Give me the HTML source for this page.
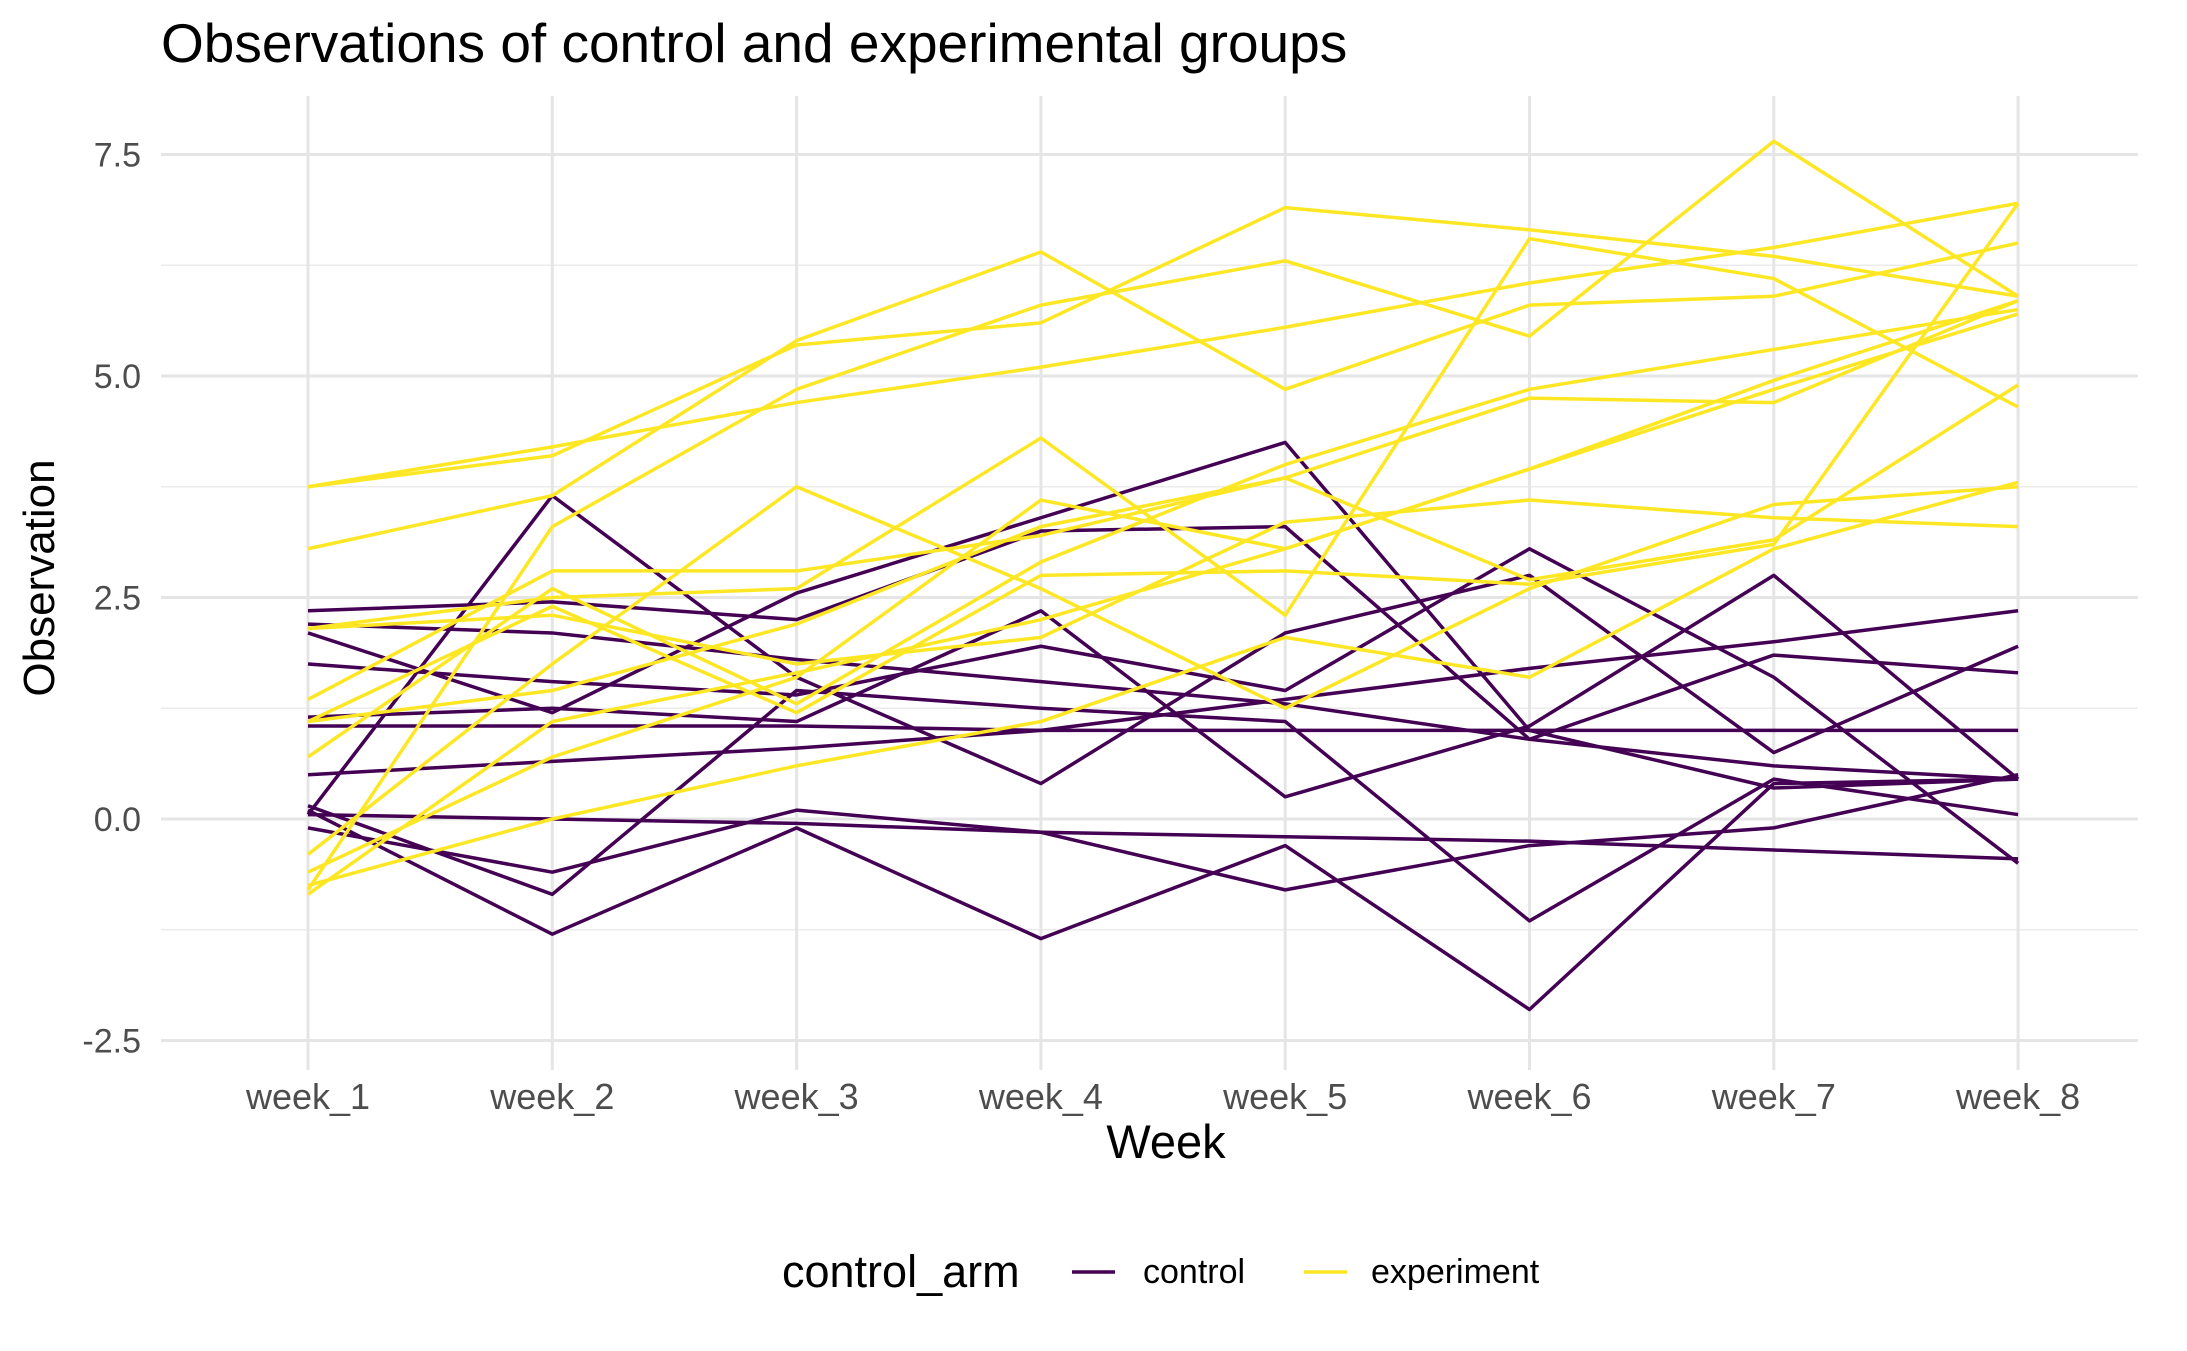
<!DOCTYPE html>
<html><head><meta charset="utf-8"><style>
html,body{margin:0;padding:0;background:#fff;}
svg{display:block;font-family:"Liberation Sans",Arial,sans-serif;}
</style></head><body>
<svg id="chart" width="2187" height="1351" viewBox="0 0 2187 1351" xmlns="http://www.w3.org/2000/svg">
<rect width="2187" height="1351" fill="#fff"/>
<text x="161" y="62" font-size="55" fill="#000">Observations of control and experimental groups</text>
<g id="grid"></g>
<g id="lines"></g>
<g id="axes"></g>
<text x="1166" y="1158" font-size="47" text-anchor="middle" fill="#000">Week</text>
<text transform="translate(54,578) rotate(-90)" font-size="44" text-anchor="middle" fill="#000">Observation</text>
<g>
<text x="782" y="1287" font-size="45" fill="#000">control_arm</text>
<line x1="1072" y1="1272" x2="1115" y2="1272" stroke="#440154" stroke-width="3.5"/>
<text x="1143" y="1283" font-size="34" fill="#000">control</text>
<line x1="1304" y1="1272" x2="1347" y2="1272" stroke="#FDE725" stroke-width="3.5"/>
<text x="1371" y="1283" font-size="34" fill="#000">experiment</text>
</g>
</svg>
<script>
const weeks = ["week_1","week_2","week_3","week_4","week_5","week_6","week_7","week_8"];
const yTicks = [-2.5, 0, 2.5, 5, 7.5];
const yTickLabels = ["-2.5","0.0","2.5","5.0","7.5"];
const controlSeries = [
 [2.35,2.45,2.25,3.25,3.3,0.9,1.85,1.65],
 [0.05,3.65,1.6,0.4,2.1,2.75,0.75,1.95],
 [2.1,1.2,2.55,3.4,4.25,1.0,0.35,0.45],
 [1.75,1.55,1.4,1.95,1.45,3.05,1.6,-0.5],
 [1.05,1.05,1.05,1.0,1.0,1.0,1.0,1.0],
 [0.5,0.65,0.8,1.0,1.35,1.7,2.0,2.35],
 [0.15,-0.85,1.45,1.25,1.1,-1.15,0.45,0.05],
 [0.1,-1.3,-0.1,-1.35,-0.3,-2.15,0.4,0.45],
 [-0.1,-0.6,0.1,-0.15,-0.8,-0.3,-0.1,0.5],
 [0.05,0.0,-0.05,-0.15,-0.2,-0.25,-0.35,-0.45],
 [2.2,2.1,1.8,1.55,1.3,0.9,0.6,0.45],
 [1.15,1.25,1.1,2.35,0.25,1.05,2.75,0.45]
];
const experimentSeries = [
 [3.75,4.1,5.35,5.6,6.9,6.65,6.35,5.9],
 [3.75,4.2,4.7,5.1,5.55,6.05,6.45,6.95],
 [3.05,3.65,5.4,6.4,4.85,5.8,5.9,6.5],
 [2.15,2.5,2.6,4.3,2.3,6.55,6.1,4.65],
 [-0.8,3.3,4.85,5.8,6.3,5.45,7.65,5.9],
 [1.35,2.8,2.8,3.2,3.85,4.75,4.7,5.85],
 [0.7,2.6,1.3,2.9,4.0,4.85,5.3,5.75],
 [-0.4,1.75,3.75,2.6,1.25,2.6,3.55,3.75],
 [-0.6,0.7,1.6,3.6,3.05,3.95,4.95,5.85],
 [2.15,2.3,1.75,2.05,3.35,3.6,3.4,3.3],
 [1.1,1.45,2.2,3.3,3.85,2.7,3.15,4.9],
 [-0.75,0.0,0.6,1.1,2.05,1.6,3.05,3.8],
 [1.1,2.4,1.2,2.75,2.8,2.65,3.1,6.95],
 [-0.85,1.1,1.65,2.25,3.05,3.95,4.85,5.7]
];
const NS="http://www.w3.org/2000/svg";
const xS = i => 308 + i*244.3;
const yS = v => 819 - 88.6*v;
const L=161, R=2138, T=96, B=1070;
const grid=document.getElementById('grid'), axes=document.getElementById('axes'), lines=document.getElementById('lines');
function mk(tag,attrs,parent){const e=document.createElementNS(NS,tag);for(const k in attrs)e.setAttribute(k,attrs[k]);parent.appendChild(e);return e;}
for(let k=0;k<yTicks.length-1;k++){
 const v=(yTicks[k]+yTicks[k+1])/2;
 const g=mk('line',{x1:L,x2:R,y1:yS(v),y2:yS(v),stroke:'#ebebeb','stroke-width':1.5},grid);
 
 
}
yTicks.forEach((v,k)=>{
 const g=mk('line',{x1:L,x2:R,y1:yS(v),y2:yS(v),stroke:'#e5e5e5','stroke-width':3},grid);
 
 
 const t=mk('text',{x:141,y:yS(v)+12,'font-size':34,'text-anchor':'end',fill:'#4d4d4d'},axes);
 t.textContent=yTickLabels[k];
 
 
});
weeks.forEach((w,i)=>{
 const g=mk('line',{x1:xS(i),x2:xS(i),y1:T,y2:B,stroke:'#e5e5e5','stroke-width':3},grid);
 
 
 const t=mk('text',{x:xS(i),y:1109,'font-size':36,'text-anchor':'middle',fill:'#4d4d4d'},axes);
 t.textContent=w;
 
 
});
function draw(series,color,name){
 series.forEach(s=>{
  const p=mk('polyline',{points:s.map((v,i)=>xS(i)+','+yS(v)).join(' '),fill:'none',stroke:color,'stroke-width':3.5,'stroke-linejoin':'round'},lines);
  
  
 });
}
draw(controlSeries,'#440154','control-line');
draw(experimentSeries,'#FDE725','experiment-line');
</script>
</body></html>
